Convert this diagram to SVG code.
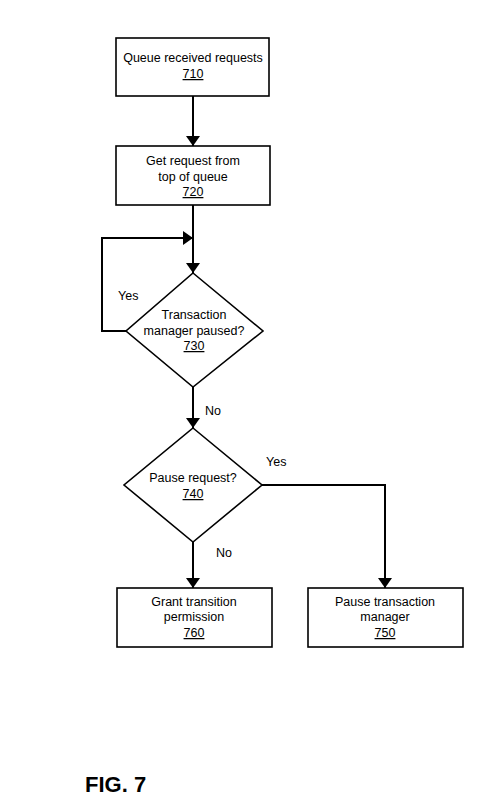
<svg xmlns="http://www.w3.org/2000/svg" width="500" height="803" viewBox="0 0 500 803">
<style>
.shape{fill:#fff;stroke:#000;stroke-width:1.6}
.conn{fill:none;stroke:#000;stroke-width:2}
text{font-family:"Liberation Sans",Arial,sans-serif;font-size:12.5px;fill:#000}
.c{text-anchor:middle}
.u{text-decoration:underline}
.fig{font-size:22px;font-weight:bold}
</style>
<defs>
<marker id="arr" viewBox="0 0 10 10" refX="10" refY="5" markerWidth="10" markerHeight="14" markerUnits="userSpaceOnUse" orient="auto-start-reverse" preserveAspectRatio="none">
<path d="M0,0 L10,5 L0,10 Z" fill="#000"/>
</marker>
</defs>
<rect width="500" height="803" fill="#fff"/>
<g id="connectors">
<line class="conn" x1="193" y1="96" x2="193" y2="146" marker-end="url(#arr)"/>
<line class="conn" x1="193" y1="205" x2="193" y2="273" marker-end="url(#arr)"/>
<polyline class="conn" points="126,331 102,331 102,238 193,238" marker-end="url(#arr)"/>
<line class="conn" x1="193" y1="387" x2="193" y2="428" marker-end="url(#arr)"/>
<line class="conn" x1="193" y1="542" x2="193" y2="588" marker-end="url(#arr)"/>
<polyline class="conn" points="262,485 385,485 385,588" marker-end="url(#arr)"/>
<text x="118" y="300">Yes</text>
<text x="205" y="415">No</text>
<text x="266" y="466">Yes</text>
<text x="216" y="557">No</text>
</g>
<g id="n710">
<rect class="shape" x="116" y="38" width="153" height="58"/>
<text class="c" x="193" y="62">Queue received requests</text>
<text class="c u" x="193" y="78">710</text>
</g>
<g id="n720">
<rect class="shape" x="116" y="146" width="154" height="59"/>
<text class="c" x="193" y="165">Get request from</text>
<text class="c" x="193" y="181">top of queue</text>
<text class="c u" x="193" y="196">720</text>
</g>
<g id="n730">
<polygon class="shape" points="193,273 263,331 193,387 126,331"/>
<text class="c" x="194" y="319">Transaction</text>
<text class="c" x="194" y="335">manager paused?</text>
<text class="c u" x="194" y="350">730</text>
</g>
<g id="n740">
<polygon class="shape" points="193,428 262,485 193,542 124,485"/>
<text class="c" x="193" y="482">Pause request?</text>
<text class="c u" x="193" y="498">740</text>
</g>
<g id="n760">
<rect class="shape" x="117" y="588" width="155" height="59"/>
<text class="c" x="194" y="606">Grant transition</text>
<text class="c" x="194" y="621">permission</text>
<text class="c u" x="194" y="637">760</text>
</g>
<g id="n750">
<rect class="shape" x="308" y="588" width="155" height="59"/>
<text class="c" x="385" y="606">Pause transaction</text>
<text class="c" x="385" y="621">manager</text>
<text class="c u" x="385" y="637">750</text>
</g>
<text class="fig" x="85" y="792">FIG. 7</text>
</svg>
